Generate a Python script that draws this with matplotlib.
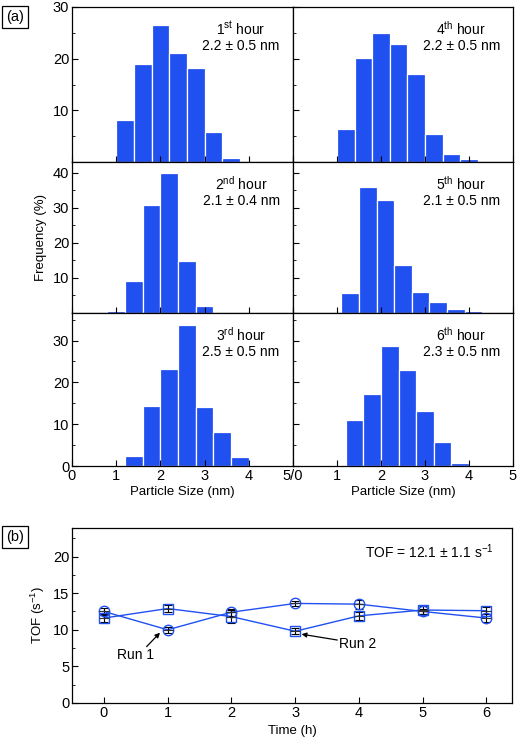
import numpy as np
import matplotlib
matplotlib.use("Agg")
import matplotlib.pyplot as plt
from matplotlib.ticker import MultipleLocator

plt.rcParams['font.family'] = ['Liberation Sans', 'DejaVu Sans']
plt.rcParams['mathtext.default'] = 'regular'
plt.rcParams['font.size'] = 9

BLUE = '#2050F0'
TICK_FS = 10.5

# histogram data: bin centres start, bin width 0.4 nm
hour_labels = ['1$^{st}$ hour', '4$^{th}$ hour', '2$^{nd}$ hour',
               '5$^{th}$ hour', '3$^{rd}$ hour', '6$^{th}$ hour']
size_labels = ['2.2 ± 0.5 nm', '2.2 ± 0.5 nm', '2.1 ± 0.4 nm',
               '2.1 ± 0.5 nm', '2.5 ± 0.5 nm', '2.3 ± 0.5 nm']
first_centre = [1.2, 1.2, 1.0, 1.3, 1.4, 1.4]
freq_h1 = [8.1, 18.9, 26.5, 21.1, 18.1, 5.9, 0.7]
freq_h4 = [6.3, 20.1, 25.0, 22.9, 17.1, 5.5, 1.6, 0.5]
freq_h2 = [0.5, 9.2, 30.8, 40.0, 14.9, 1.9, 0.3]
freq_h5 = [5.8, 35.9, 32.2, 13.6, 6.1, 3.2, 1.2, 0.5]
freq_h3 = [2.4, 14.4, 23.3, 33.8, 14.0, 8.2, 2.2, 0.3]
freq_h6 = [11.0, 17.2, 28.8, 23.0, 13.1, 5.8, 0.6]
freqs = [freq_h1, freq_h4, freq_h2, freq_h5, freq_h3, freq_h6]
row_ymax = [30, 43, 36.6]

# TOF data
time_h = [0, 1, 2, 3, 4, 5, 6]
tof_run1 = [12.5, 10.0, 12.4, 13.6, 13.5, 12.5, 11.6]
err_run1 = [0.5, 0.4, 0.5, 0.3, 0.6, 0.4, 0.5]
tof_run2 = [11.6, 12.9, 11.8, 9.8, 11.9, 12.7, 12.6]
err_run2 = [0.5, 0.5, 0.9, 0.4, 0.5, 0.5, 0.5]

W, H = 520, 740
fig = plt.figure(figsize=(W / 100, H / 100), dpi=100)


def px_axes(x0, y0, x1, y1):
    return fig.add_axes([x0 / W, 1 - y1 / H, (x1 - x0) / W, (y1 - y0) / H])


rows_px = [(7, 162), (162, 313), (313, 466)]
cols_px = [(72, 293), (293, 513)]

for i in range(6):
    r, c = divmod(i, 2)
    ax = px_axes(cols_px[c][0], rows_px[r][0], cols_px[c][1], rows_px[r][1])
    centres = first_centre[i] + 0.4 * np.arange(len(freqs[i]))
    ax.bar(centres, freqs[i], width=0.4, color=BLUE, edgecolor='white', linewidth=0.9)
    ax.set_xlim(0, 5)
    ax.set_ylim(0, row_ymax[r])
    ax.xaxis.set_major_locator(MultipleLocator(1))
    ax.yaxis.set_major_locator(MultipleLocator(10))
    ax.yaxis.set_minor_locator(MultipleLocator(5))
    ax.tick_params(which='both', direction='in', top=False, right=False, labelsize=TICK_FS)
    ax.tick_params(which='major', length=4, pad=2)
    ax.tick_params(which='minor', length=2)
    for s in ax.spines.values():
        s.set_linewidth(0.9)
    if c == 1:
        ax.tick_params(axis='y', labelleft=False)
    elif r < 2:
        ax.set_yticks([10, 20, 30, 40][:int(row_ymax[r] // 10)])
    if r < 2:
        ax.tick_params(axis='x', labelbottom=False)
    else:
        if c == 0:
            ax.set_xticks([0, 1, 2, 3, 4])
        else:
            ax.set_xticks([0, 1, 2, 3, 4, 5])
            ax.set_xticklabels(['5/0', '1', '2', '3', '4', '5'])
        ax.set_xlabel('Particle Size (nm)', fontsize=9.5, labelpad=2)
    if r == 1 and c == 0:
        ax.set_ylabel('Frequency (%)', fontsize=9.5, labelpad=4)
    top = rows_px[r][1] - rows_px[r][0]
    ax.text(0.765, 1 - 22 / top, hour_labels[i], transform=ax.transAxes,
            ha='center', va='center', fontsize=10)
    ax.text(0.765, 1 - 39 / top, size_labels[i], transform=ax.transAxes,
            ha='center', va='center', fontsize=10)

fig.text(15 / W, 1 - 17 / H, '(a)', ha='center', va='center', fontsize=10.5,
         bbox=dict(boxstyle='square,pad=0.25', fc='none', ec='black', lw=0.9))
fig.text(15 / W, 1 - 537 / H, '(b)', ha='center', va='center', fontsize=10.5,
         bbox=dict(boxstyle='square,pad=0.25', fc='none', ec='black', lw=0.9))

# bottom panel
ax = px_axes(72, 528, 512, 703)
ax.plot(time_h, tof_run1, color=BLUE, lw=1)
ax.plot(time_h, tof_run2, color=BLUE, lw=1)
ax.errorbar(time_h, tof_run1, yerr=err_run1, fmt='none', ecolor='black',
            elinewidth=0.8, capsize=3, capthick=0.8)
ax.errorbar(time_h, tof_run2, yerr=err_run2, fmt='none', ecolor='black',
            elinewidth=0.8, capsize=3, capthick=0.8)
ax.plot(time_h, tof_run1, 'o', ms=7.5, mfc='none', mec=BLUE, mew=1)
ax.plot(time_h, tof_run2, 's', ms=7, mfc='none', mec=BLUE, mew=1)
ax.plot(time_h, tof_run1, '_', ms=7, mec='#333333', mew=0.8)
ax.plot(time_h, tof_run2, '_', ms=7, mec='#333333', mew=0.8)
ax.set_xlim(-0.5, 6.4)
ax.set_ylim(0, 23.9)
ax.xaxis.set_major_locator(MultipleLocator(1))
ax.yaxis.set_major_locator(MultipleLocator(5))
ax.yaxis.set_minor_locator(MultipleLocator(2.5))
ax.tick_params(which='both', direction='in', labelsize=TICK_FS)
ax.tick_params(which='major', length=4, pad=2)
ax.tick_params(which='minor', length=2)
for s in ax.spines.values():
    s.set_linewidth(0.9)
ax.set_xlabel('Time (h)', fontsize=9.5, labelpad=4)
ax.set_ylabel('TOF (s$^{-1}$)', fontsize=9.5, labelpad=4)

arrow = dict(arrowstyle='-|>', color='black', lw=0.9, mutation_scale=7,
             shrinkA=0, shrinkB=0)
ax.annotate('', xy=(0.88, 9.6), xytext=(0.67, 7.7), arrowprops=arrow)
ax.text(0.5, 6.6, 'Run 1', ha='center', va='center', fontsize=10)
ax.annotate('', xy=(3.1, 9.4), xytext=(3.66, 8.6), arrowprops=arrow)
ax.text(3.98, 8.1, 'Run 2', ha='center', va='center', fontsize=10)
ax.text(5.11, 20.6, 'TOF = 12.1 $\\pm$ 1.1 s$^{-1}$', ha='center', va='center', fontsize=10)

fig.savefig('out.png', dpi=100)
